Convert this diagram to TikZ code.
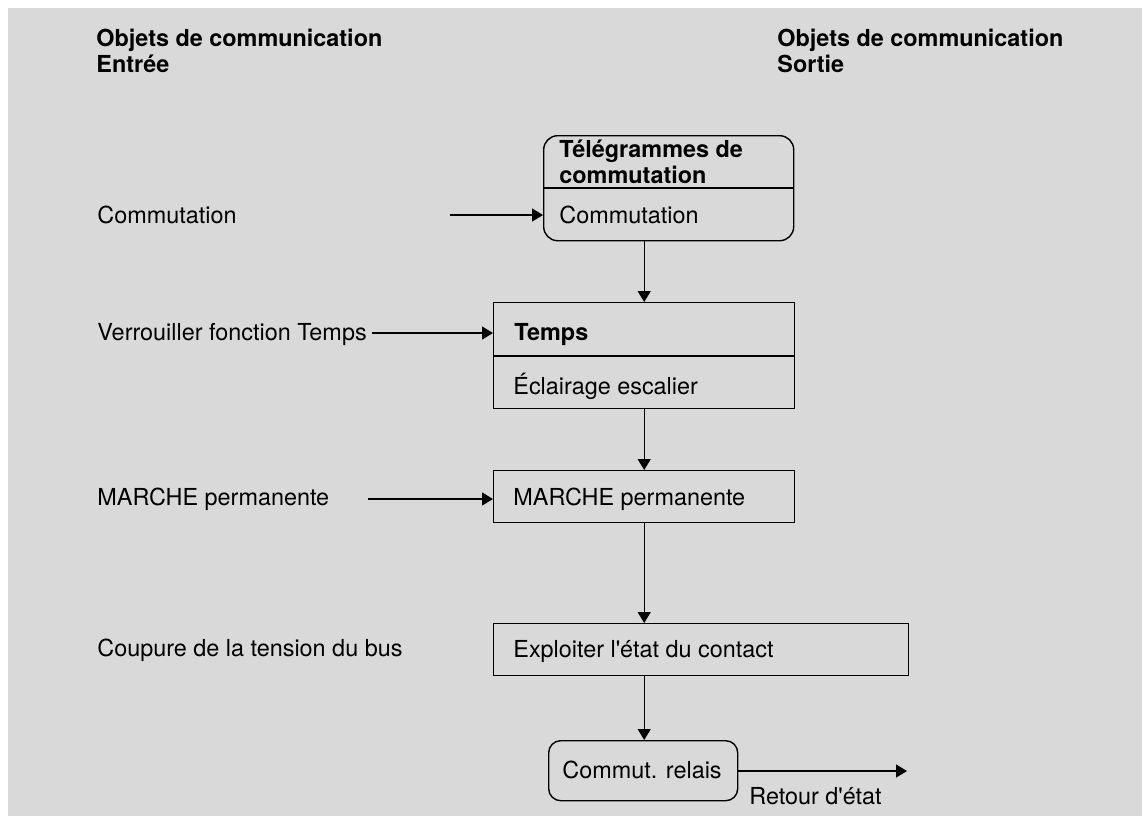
\documentclass[tikz,border=0pt]{standalone}
\usepackage{fontspec}
\setmainfont{TeX Gyre Heros}
\usetikzlibrary{arrows.meta,positioning}

\begin{document}
\begin{tikzpicture}[x=0.5pt,y=-0.5pt,
  lbl/.style={anchor=base west, inner sep=0pt, font=\fontsize{11.7}{13}\selectfont},
  titre/.style={lbl, font=\fontsize{11.7}{13}\selectfont\bfseries},
  boite/.style={draw, anchor=north west, inner sep=0pt, line width=0.7pt},
  arrondi/.style={boite, rounded corners=7pt},
  >={Triangle[length=5.5pt,width=6.5pt]}]
\useasboundingbox (0,0) rectangle (1148,816);
\fill [black!15] (8,8) rectangle (1142,816);

% en-tetes
\node [titre] (h_in1) at (96,46) {Objets de communication};
\node [titre] (h_in2) at (96,72) {Entrée};
\node [titre] (h_out1) at (777,46) {Objets de communication};
\node [titre] (h_out2) at (777,72) {Sortie};

% objets d'entree
\node [lbl] (l_comm) at (97,223) {Commutation};
\node [lbl] (l_verr) at (97,340) {Verrouiller fonction Temps};
\node [lbl] (l_marche) at (97,505) {MARCHE permanente};
\node [lbl] (l_coup) at (97,656) {Coupure de la tension du bus};

% blocs
\node [arrondi, minimum width=125pt, minimum height=52.5pt] (tele) at (543,135) {};
\node [titre] (tele_t1) at (559,157) {Télégrammes de};
\node [titre] (tele_t2) at (559,183) {commutation};
\node [lbl] (tele_t3) at (559,223) {Commutation};
\draw [line width=0.7pt] (tele.west |- 0,188) -- (tele.east |- 0,188);

\node [boite, minimum width=150.5pt, minimum height=53pt] (temps) at (493,302) {};
\node [titre] (temps_t1) at (514,340) {Temps};
\node [lbl] (temps_t2) at (513,394) {Éclairage escalier};
\draw [line width=0.7pt] (temps.west |- 0,356) -- (temps.east |- 0,356);

\node [boite, minimum width=150.5pt, minimum height=26pt] (marche) at (493,470) {};
\node [lbl] (marche_t) at (513,505) {MARCHE permanente};

\node [boite, minimum width=207.5pt, minimum height=26pt] (expl) at (493,623) {};
\node [lbl] (expl_t) at (513,657) {Exploiter l\textquotesingle état du contact};

\node [arrondi, rounded corners=6pt, minimum width=94.5pt, minimum height=30pt] (relais) at (548,740) {};
\node [lbl] (relais_t) at (562,778) {Commut. relais};
\node [lbl] (retour) at (749,804) {Retour d\textquotesingle état};

% extremites libres
\coordinate (c_comm) at (450,215);
\coordinate (c_verr) at (372,333);
\coordinate (c_marche) at (368,499);
\coordinate (c_out) at (907,771);

\path [->, line width=0.7pt]
(c_comm) edge (c_comm -| tele.west)
(c_verr) edge (c_verr -| temps.west)
(c_marche) edge (c_marche -| marche.west)
(tele.south -| temps.north) edge (temps.north)
(temps.south) edge (marche.north)
(marche.south) edge (expl.north -| marche.south)
(expl.south -| marche.south) edge (relais.north -| marche.south)
(relais.east |- c_out) edge (c_out);
\end{tikzpicture}
\end{document}
